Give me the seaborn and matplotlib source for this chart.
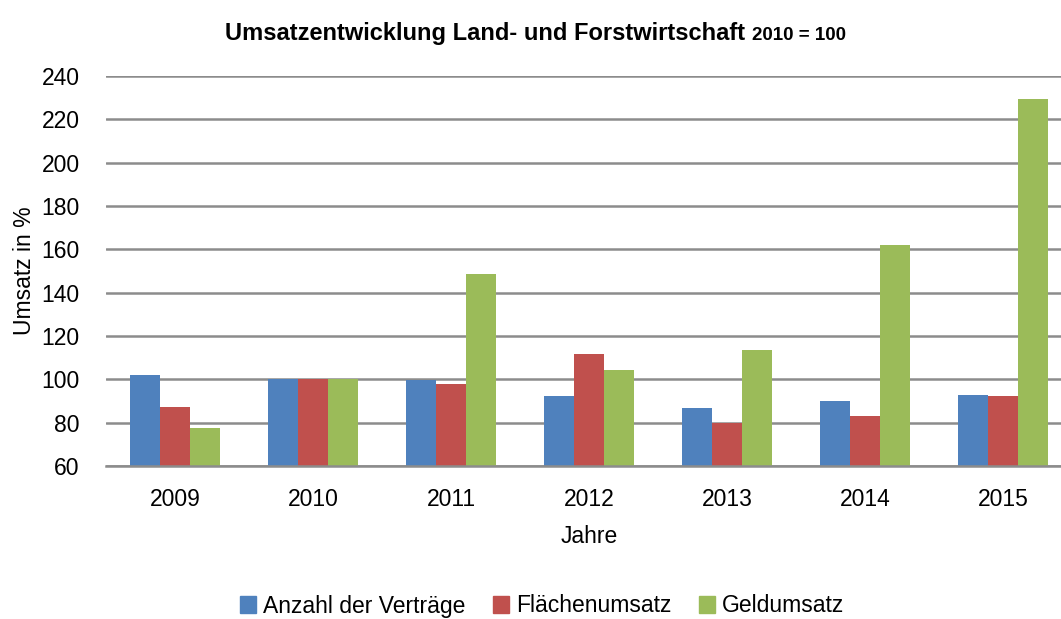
import matplotlib
matplotlib.use("Agg")
import matplotlib.pyplot as plt
import seaborn as sns
import pandas as pd

# values (2010 = 100)
jahre = ["2009", "2010", "2011", "2012", "2013", "2014", "2015"]
anzahl = [102.1, 100.0, 99.5, 92.2, 86.6, 90.2, 92.6]
flaeche = [87.1, 100.0, 97.8, 111.5, 80.0, 83.2, 92.5]
geld = [77.4, 100.0, 148.5, 104.2, 113.4, 161.8, 229.4]
serien = ["Anzahl der Verträge", "Flächenumsatz", "Geldumsatz"]
farben = ["#4f81bd", "#c0504d", "#9bbb59"]

df = pd.DataFrame({
    "Jahr": jahre * 3,
    "Serie": [serien[0]] * 7 + [serien[1]] * 7 + [serien[2]] * 7,
    "Wert": anzahl + flaeche + geld,
})

sns.set_theme(style="white")
plt.rcParams["font.family"] = ["Liberation Sans", "DejaVu Sans"]
plt.rcParams["text.color"] = "black"
plt.rcParams["axes.labelcolor"] = "black"

fig = plt.figure(figsize=(10.61, 6.19), dpi=100)
ax = fig.add_axes([106 / 1061, 1 - 466 / 619, 966 / 1061, 390 / 619])

sns.barplot(data=df, x="Jahr", y="Wert", hue="Serie", palette=farben,
            width=0.65, ax=ax, legend=False, saturation=1, linewidth=0)

ax.set_ylim(60, 240)
ax.set_yticks(range(60, 241, 20))
ax.yaxis.grid(True, color="#8c8c8c", linewidth=1.8)
ax.set_axisbelow(True)
for s in ["left", "right", "top"]:
    ax.spines[s].set_visible(False)
ax.spines["bottom"].set_color("#8c8c8c")
ax.spines["bottom"].set_linewidth(1.8)
ax.tick_params(axis="both", length=0, labelsize=16.5, colors="black")
ax.tick_params(axis="y", pad=19)
ax.tick_params(axis="x", pad=16)
ax.set_xlabel("Jahre", fontsize=16.5, labelpad=10)
ax.set_ylabel("Umsatz in %", fontsize=16.5, labelpad=4)

# title with the smaller "2010 = 100" part
fig.text(745 / 1061, 1 - 40 / 619, "Umsatzentwicklung Land- und Forstwirtschaft",
         ha="right", va="baseline", fontsize=17, fontweight="bold")
fig.text(752 / 1061, 1 - 40 / 619, "2010 = 100",
         ha="left", va="baseline", fontsize=13.5, fontweight="bold")

handles = [plt.Rectangle((0, 0), 1, 1, color=c) for c in farben]
fig.legend(handles, serien, loc="center", bbox_to_anchor=(542 / 1061, 1 - 606 / 619),
           ncol=3, frameon=False, fontsize=16.5, handlelength=0.7, handleheight=0.7,
           handletextpad=0.3, columnspacing=1.2)

fig.savefig("out.png", dpi=100)
